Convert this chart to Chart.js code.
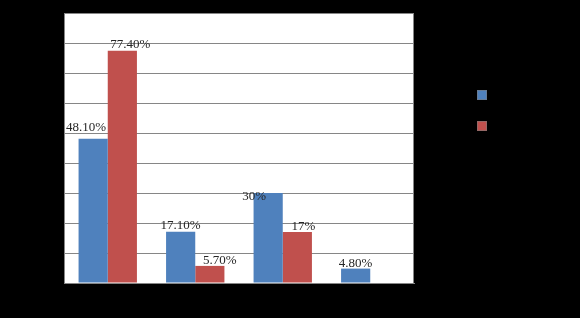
<!DOCTYPE html>
<html>
<head>
<meta charset="utf-8">
<script src="https://cdn.jsdelivr.net/npm/chart.js@4"></script>
<style>
  html, body { margin: 0; padding: 0; background: #000; }
  #wrap { width: 580px; height: 318px; }
</style>
</head>
<body>
<div id="wrap"><canvas id="chart" width="580" height="318"></canvas></div>
<script>
const categories = ['Category 1', 'Category 2', 'Category 3', 'Category 4'];
const seriesNames = ['Series 1', 'Series 2'];
const series1 = [48.1, 17.1, 30, 4.8];
const series2 = [77.4, 5.7, 17, null];
const labels1 = ['48.10%', '17.10%', '30%', '4.80%'];
const labels2 = ['77.40%', '5.70%', '17%', ''];
const yTicks = [0, 10, 20, 30, 40, 50, 60, 70, 80, 90];

// small nudges so the labels sit like the original (dx, dy in px)
const labelNudge = [
    [[-7, -8], [0, -3], [-14, 7], [0, -2]],
    [[8, -3], [10, -2], [6, -2], [0, 0]]
];

const frame = {
    id: 'frame',
    beforeDraw(chart) {
        const { ctx, chartArea: a } = chart;
        ctx.save();
        ctx.fillStyle = '#000';
        ctx.fillRect(0, 0, chart.width, chart.height);
        ctx.fillStyle = '#fff';
        ctx.fillRect(a.left, a.top, a.right - a.left, a.bottom - a.top);
        ctx.restore();
    },
    afterDraw(chart) {
        const { ctx, chartArea: a } = chart;
        ctx.save();
        ctx.strokeStyle = '#868686';
        ctx.lineWidth = 1;
        ctx.strokeRect(Math.round(a.left) + 0.5, Math.round(a.top) + 0.5,
            Math.round(a.right - a.left) - 1, Math.round(a.bottom - a.top));

        // value labels
        ctx.font = '13px "Liberation Serif", "Times New Roman", serif';
        ctx.fillStyle = '#262626';
        ctx.textAlign = 'center';
        ctx.textBaseline = 'alphabetic';
        const texts = [labels1, labels2];
        chart.data.datasets.forEach((ds, i) => {
            chart.getDatasetMeta(i).data.forEach((bar, j) => {
                const t = texts[i][j];
                if (!t || ds.data[j] == null) return;
                const n = labelNudge[i][j];
                ctx.fillText(t, bar.x + n[0], bar.y + n[1]);
            });
        });

        // legend (text is black, as in the original)
        ctx.textAlign = 'left';
        ctx.textBaseline = 'middle';
        ctx.font = '13px "Liberation Serif", serif';
        chart.data.datasets.forEach((ds, i) => {
            const y = 90 + i * 31;
            ctx.fillStyle = ds.backgroundColor;
            ctx.fillRect(477, y, 10, 10);
            ctx.strokeStyle = 'rgba(120,120,120,0.6)';
            ctx.strokeRect(477.5, y + 0.5, 9, 9);
            ctx.fillStyle = '#000';
            ctx.fillText(ds.label, 493, y + 5);
        });
        ctx.restore();
    }
};

new Chart(document.getElementById('chart'), {
    type: 'bar',
    data: {
        labels: categories,
        datasets: [
            { label: seriesNames[0], data: series1, backgroundColor: '#4F81BD' },
            { label: seriesNames[1], data: series2, backgroundColor: '#C0504D' }
        ]
    },
    options: {
        responsive: false,
        animation: false,
        events: [],
        layout: { padding: { left: 0, top: 13, right: 166, bottom: 0 } },
        datasets: { bar: { categoryPercentage: 0.667, barPercentage: 1, borderWidth: 0 } },
        plugins: {
            legend: { display: false },
            tooltip: { enabled: false }
        },
        scales: {
            x: {
                grid: { display: false },
                border: { color: '#868686' },
                ticks: { color: '#000', font: { family: 'Liberation Serif', size: 13 } },
                afterFit(scale) { scale.height = 35; }
            },
            y: {
                min: 0,
                max: 90,
                afterBuildTicks(scale) { scale.ticks = yTicks.map(v => ({ value: v })); },
                grid: { color: '#868686', drawTicks: false },
                border: { color: '#868686' },
                ticks: {
                    color: '#000',
                    font: { family: 'Liberation Serif', size: 13 },
                    callback: v => v + '%'
                },
                afterFit(scale) { scale.width = 64; }
            }
        }
    },
    plugins: [frame]
});
</script>
</body>
</html>
